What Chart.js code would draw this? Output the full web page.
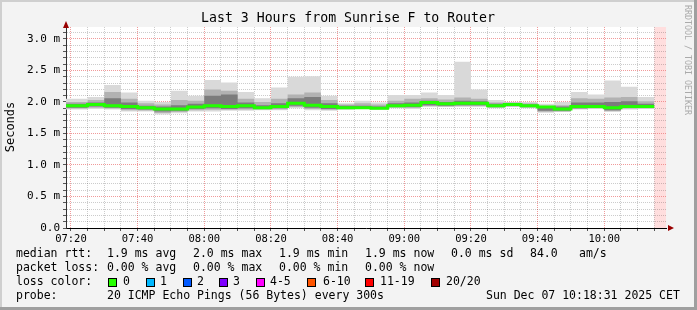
<!DOCTYPE html>
<html>
<head>
<meta charset="utf-8">
<style>
  html, body { margin: 0; padding: 0; background: #f3f3f3; }
  #wrap { width: 697px; height: 310px; }
</style>
<script src="https://cdn.jsdelivr.net/npm/chart.js@4.4.0/dist/chart.umd.min.js"></script>
</head>
<body>
<div id="wrap"><canvas id="smoke" width="697" height="310"></canvas></div>
<script>
// time of each 5 minute step (start), last step ends at barEnd
var barStart = ['07:18:31','07:25','07:30','07:35','07:40','07:45','07:50','07:55',
  '08:00','08:05','08:10','08:15','08:20','08:25','08:30','08:35','08:40','08:45','08:50','08:55',
  '09:00','09:05','09:10','09:15','09:20','09:25','09:30','09:35','09:40','09:45','09:50','09:55',
  '10:00','10:05','10:10'];
var barEnd = '10:15';
var graphStart = '07:18:31';
var graphEnd = '10:18:31';

// values in ms
var median = [1.94,1.96,1.94,1.93,1.91,1.89,1.89,1.92,1.94,1.93,1.94,1.91,1.93,1.98,1.95,1.93,1.91,1.91,1.90,1.94,
  1.95,1.99,1.97,1.98,1.98,1.94,1.96,1.94,1.92,1.89,1.93,1.93,1.91,1.93,1.93];
var pingMax = [2.05,2.08,2.27,2.15,2.02,2.00,2.18,2.10,2.35,2.31,2.16,2.06,2.23,2.40,2.41,2.10,1.98,2.02,1.99,2.11,
  2.11,2.15,2.11,2.64,2.20,2.03,2.00,2.00,1.97,2.00,2.16,2.12,2.34,2.24,2.08];
var pingHigh = [2.00,2.03,2.16,2.05,1.98,1.96,2.03,2.02,2.20,2.18,2.05,2.00,2.05,2.12,2.15,2.03,1.96,1.98,1.96,2.02,
  2.05,2.06,2.04,2.07,2.05,1.99,1.99,1.98,1.94,1.95,2.06,2.05,2.07,2.08,2.01];
var pingDarkHigh = [1.97,1.99,2.06,1.99,1.94,1.93,1.95,1.97,2.10,2.12,1.99,1.95,1.98,2.06,2.08,1.98,1.94,1.94,1.93,1.98,
  1.99,2.02,2.00,2.02,2.01,1.97,1.98,1.96,1.93,1.93,1.99,1.99,2.00,2.01,1.97];
var pingDarkLow = [1.91,1.93,1.91,1.89,1.88,1.85,1.86,1.89,1.90,1.89,1.90,1.89,1.90,1.94,1.91,1.89,1.89,1.90,1.89,1.92,
  1.92,1.95,1.94,1.95,1.95,1.92,1.94,1.92,1.86,1.86,1.90,1.91,1.87,1.91,1.91];
var pingLow = [1.895,1.91,1.895,1.87,1.865,1.825,1.84,1.87,1.875,1.875,1.88,1.88,1.885,1.92,1.89,1.875,1.885,1.895,1.885,1.91,
  1.905,1.935,1.93,1.935,1.935,1.91,1.93,1.91,1.845,1.85,1.89,1.90,1.855,1.895,1.90];
var pingMin = [1.88,1.89,1.88,1.85,1.85,1.80,1.82,1.85,1.85,1.86,1.86,1.87,1.87,1.90,1.87,1.86,1.88,1.89,1.88,1.90,
  1.89,1.92,1.92,1.92,1.92,1.90,1.92,1.90,1.83,1.84,1.88,1.89,1.84,1.88,1.89];

var xTickLabels = ['07:20','07:40','08:00','08:20','08:40','09:00','09:20','09:40','10:00'];
var yTickLabels = ['0.0','0.5 m','1.0 m','1.5 m','2.0 m','2.5 m','3.0 m'];

var lossNames = ['0','1','2','3','4-5','6-10','11-19','20/20'];
var lossColors = ['#26ff00','#00b8ff','#0059ff','#7e00ff','#ff00ff','#ff5500','#ff0000','#a10000'];

function toMin(s){
    var p = s.split(':').map(Number);
    return (p[0] - 7) * 60 + p[1] + (p[2] || 0) / 60;
}

function steps(vals){
    var pts = barStart.map(function(t, i){ return {x: toMin(t), y: vals[i]}; });
    pts.push({x: toMin(barEnd), y: vals[vals.length - 1]});
    return pts;
}

var MONO = "'DejaVu Sans Mono', 'Liberation Mono', monospace";

var frame = {
  id: 'frame',
  beforeDraw: function(chart){
    var c = chart.ctx, a = chart.chartArea;
    c.save();
    c.fillStyle = '#f3f3f3';
    c.fillRect(0, 0, 697, 310);
    c.fillStyle = '#cfcfcf';
    c.fillRect(0, 0, 697, 2);
    c.fillRect(0, 0, 2, 310);
    c.fillStyle = '#9f9f9f';
    c.fillRect(0, 307, 697, 3);
    c.fillRect(694, 0, 3, 310);
    c.fillStyle = '#ffffff';
    c.fillRect(a.left, a.top, a.right - a.left, a.bottom - a.top);
    // unknown / future part
    var xs = chart.scales.x;
    var p0 = xs.getPixelForValue(toMin(barEnd));
    c.fillStyle = '#ffdede';
    c.fillRect(p0, a.top, a.right - p0, a.bottom - a.top);
    c.restore();
  },
  afterDraw: function(chart){
    var c = chart.ctx, a = chart.chartArea;
    c.save();
    c.fillStyle = '#000';
    c.textBaseline = 'middle';

    c.font = '13.2px ' + MONO;
    c.textAlign = 'center';
    c.fillText('Last 3 Hours from Sunrise F to Router', 348, 19);

    c.save();
    c.translate(11, 127);
    c.rotate(-Math.PI / 2);
    c.font = '12px ' + MONO;
    c.fillText('Seconds', 0, 0);
    c.restore();

    c.save();
    c.translate(687, 5);
    c.rotate(Math.PI / 2);
    c.font = '8.3px ' + MONO;
    c.fillStyle = '#aaaaaa';
    c.textAlign = 'left';
    c.fillText('RRDTOOL / TOBI OETIKER', 0, 0);
    c.restore();

    // axis arrows
    c.fillStyle = '#990000';
    c.beginPath();
    c.moveTo(a.left - 3, 28); c.lineTo(a.left + 3, 28); c.lineTo(a.left, 21);
    c.closePath(); c.fill();
    c.beginPath();
    c.moveTo(668, a.bottom - 3); c.lineTo(668, a.bottom + 3); c.lineTo(674, a.bottom);
    c.closePath(); c.fill();

    // legend
    c.fillStyle = '#000';
    c.textAlign = 'left';
    c.font = '11.5px ' + MONO;
    var rows = [
      [254, [[16,'median rtt:'],[107,'1.9 ms avg'],[193,'2.0 ms max'],[279,'1.9 ms min'],[365,'1.9 ms now'],[451,'0.0 ms sd'],[530,'84.0'],[579,'am/s']]],
      [268, [[16,'packet loss:'],[107,'0.00 % avg'],[193,'0.00 % max'],[279,'0.00 % min'],[365,'0.00 % now']]],
      [282, [[16,'loss color:']]],
      [296, [[16,'probe:'],[107,'20 ICMP Echo Pings (56 Bytes) every 300s'],[486,'Sun Dec 07 10:18:31 2025 CET']]]
    ];
    rows.forEach(function(r){
      r[1].forEach(function(s){ c.fillText(s[1], s[0], r[0]); });
    });
    var boxX = [108,146,183,219,256,307,365,431];
    var nameX = [123,160,197,233,270,323,380,446];
    for (var i = 0; i < lossNames.length; i++){
      c.fillStyle = lossColors[i];
      c.fillRect(boxX[i], 278, 8, 8);
      c.strokeStyle = '#000';
      c.lineWidth = 1;
      c.strokeRect(boxX[i] + 0.5, 278.5, 8, 8);
      c.fillStyle = '#000';
      c.fillText(lossNames[i], nameX[i], 282);
    }
    c.restore();
  }
};

function band(data, color, fill, order){
    return {
      data: steps(data),
      stepped: true,
      borderColor: 'rgba(0,0,0,0)',
      backgroundColor: color,
      borderWidth: 1,
      pointRadius: 0,
      fill: fill,
      order: order
    };
}

var ctx = document.getElementById('smoke');
var smokeChart = new Chart(ctx, {
  type: 'line',
  data: {
    datasets: [
      band(pingMax, '#d9d9d9', '+1', 30),
      band(pingMin, '#d9d9d9', false, 31),
      band(pingHigh, '#b2b2b2', '+1', 20),
      band(pingLow, '#b2b2b2', false, 21),
      band(pingDarkHigh, '#7c7c7c', '+1', 10),
      band(pingDarkLow, '#7c7c7c', false, 11),
      {
        data: steps(median),
        stepped: true,
        borderColor: '#22ff00',
        borderWidth: 3,
        pointRadius: 0,
        fill: false,
        order: 0
      }
    ]
  },
  options: {
    responsive: false,
    animation: false,
    devicePixelRatio: 1,
    layout: { padding: { top: 27, right: 31, left: 0, bottom: 0 } },
    plugins: {
      legend: { display: false },
      tooltip: { enabled: false },
      title: { display: false }
    },
    scales: {
      x: {
        type: 'linear',
        min: toMin(graphStart),
        max: toMin(graphEnd),
        afterBuildTicks: function(axis){
          var t = [];
          for (var m = 20; m <= 195; m += 5) t.push({value: m});
          axis.ticks = t;
        },
        afterFit: function(axis){ axis.height = 82; },
        grid: {
          color: function(c){ return c.tick && c.tick.value % 20 === 0 ? 'rgba(235,120,120,0.75)' : 'rgba(0,0,0,0.2)'; },
          tickColor: '#555',
          tickLength: 3,
          lineWidth: 1
        },
        border: { color: '#000', width: 1, dash: [1, 1] },
        ticks: {
          autoSkip: false,
          maxRotation: 0,
          padding: 2,
          color: '#000',
          font: { family: MONO, size: 10.5 },
          callback: function(v){
            if (v % 20 !== 0) return '';
            return xTickLabels[(v - 20) / 20];
          }
        }
      },
      y: {
        min: 0,
        max: 3.19,
        afterBuildTicks: function(axis){
          var t = [];
          for (var k = 0; k <= 31; k++) t.push({value: k / 10});
          axis.ticks = t;
        },
        afterFit: function(axis){ axis.width = 66; },
        grid: {
          color: function(c){ return c.tick && Math.round(c.tick.value * 10) % 5 === 0 ? 'rgba(235,120,120,0.75)' : 'rgba(0,0,0,0.2)'; },
          tickColor: '#555',
          tickLength: 3,
          lineWidth: 1
        },
        border: { color: '#333', width: 1, dash: [1, 1] },
        ticks: {
          autoSkip: false,
          padding: 3,
          color: '#000',
          font: { family: MONO, size: 11 },
          callback: function(v){
            var k = Math.round(v * 10);
            if (k % 5 !== 0) return '';
            return yTickLabels[k / 5];
          }
        }
      }
    }
  },
  plugins: [frame]
});
</script>
</body>
</html>
